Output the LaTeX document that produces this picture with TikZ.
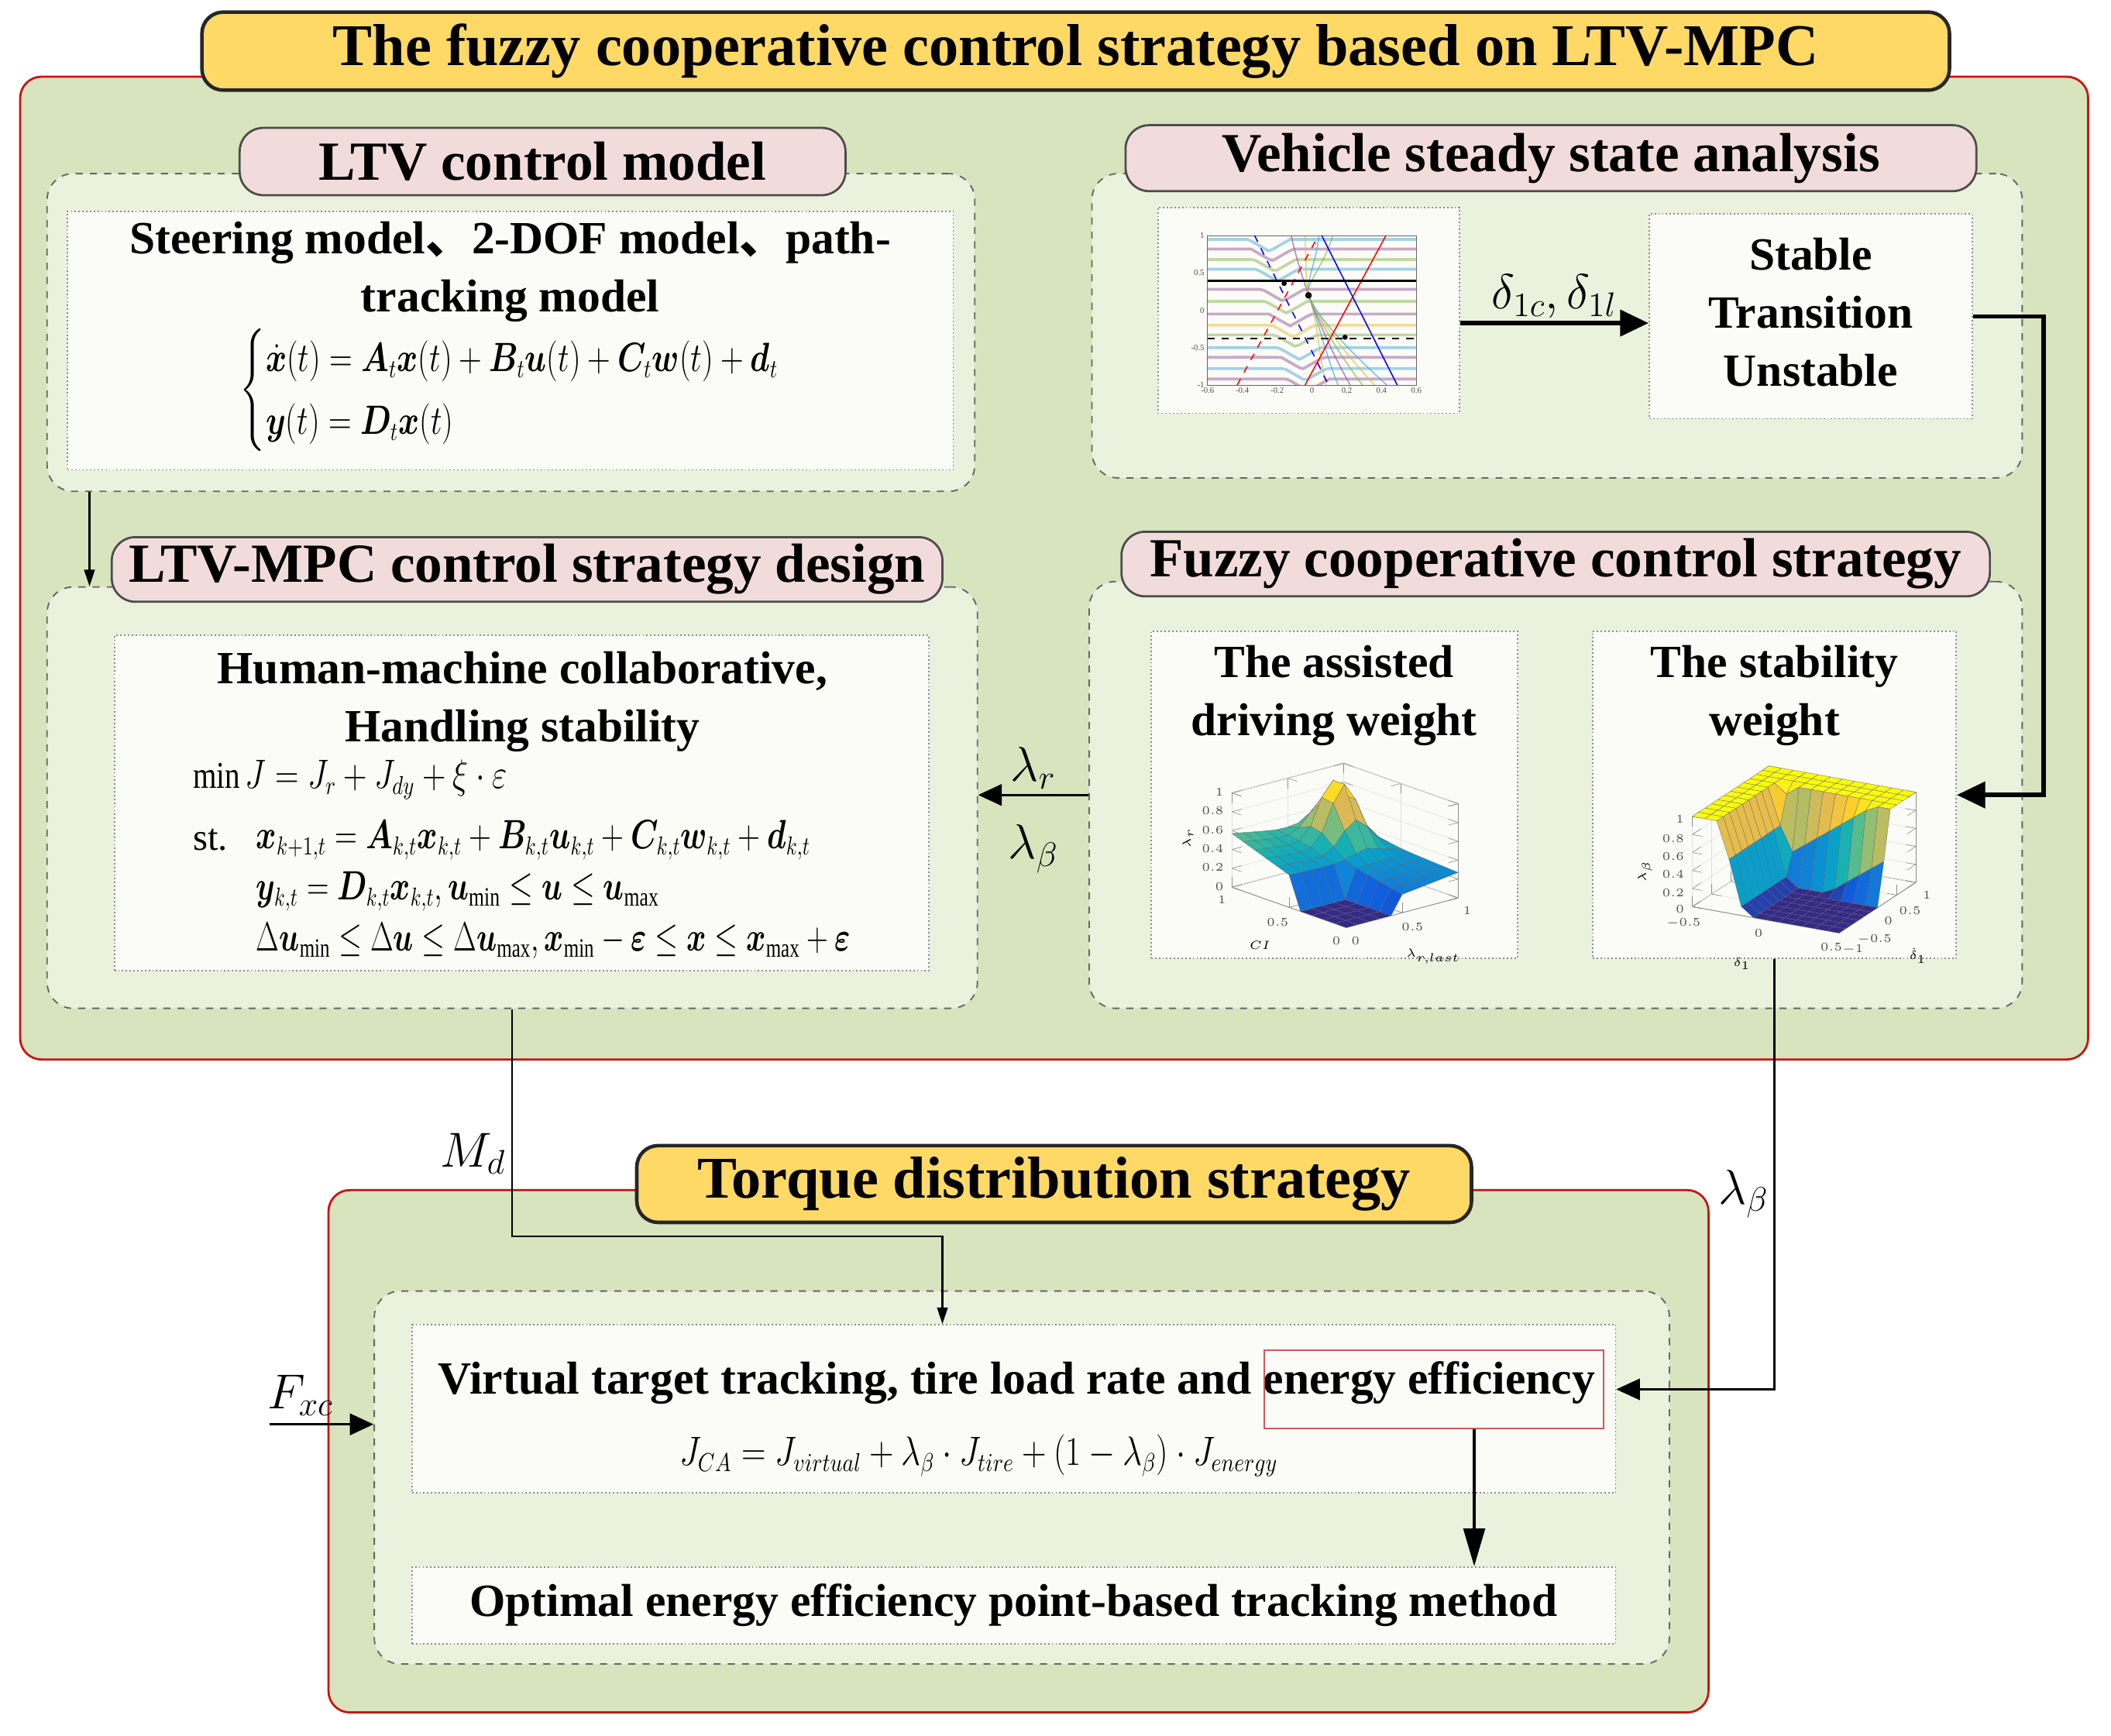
\documentclass[tikz,border=0pt]{standalone}
\usepackage{amsmath}
\usepackage{bm}
\usepackage{graphicx}
\usepackage{fontspec}
\setmainfont{Liberation Serif}
\newfontfamily\cjk{Noto Sans CJK SC}
\usepackage{tikz}
\usepackage{pgfplots}
\pgfplotsset{compat=1.18}
\usetikzlibrary{arrows.meta,positioning,calc}

\definecolor{panelgreen}{RGB}{215,228,189}
\definecolor{grpgreen}{RGB}{234,241,221}
\definecolor{bannergold}{RGB}{255,217,102}
\definecolor{headpink}{RGB}{242,220,219}
\definecolor{panelred}{RGB}{200,20,20}
\definecolor{cardwhite}{RGB}{251,252,248}
\definecolor{framered}{RGB}{205,90,90}
\definecolor{c1}{RGB}{77,170,210}
\definecolor{c2}{RGB}{150,90,150}
\definecolor{c3}{RGB}{140,180,80}
\definecolor{c4}{RGB}{230,190,60}

% surfaces of the fuzzy weights
\pgfplotsset{
  surfplot/.style={grid=major,
    grid style={black!12, line width=0.2pt},
    axis line style={black!45, line width=0.3pt},
    tick style={black!45, line width=0.2pt},
    tick label style={font=\fontsize{4}{4}\selectfont\mdseries, text=black!70},
    label style={font=\fontsize{5}{5}\selectfont\mdseries, inner sep=0pt},
    colormap={parula}{rgb255=(53,42,135) rgb255=(15,92,221) rgb255=(18,125,216)
      rgb255=(7,156,207) rgb255=(21,177,180) rgb255=(89,189,140)
      rgb255=(165,190,107) rgb255=(225,185,82) rgb255=(252,206,46) rgb255=(249,251,14)},
    faceted color=black!60, z buffer=sort, zmin=0, zmax=1}
}

\begin{document}
\begin{tikzpicture}
[x=0.2mm, y=0.2mm,
% STYLES
% The panel style is used for the two large green panels
panel/.style={draw=panelred, line width=0.9pt, fill=panelgreen, rounded corners=9pt},
% The banner style is used for the yellow titles
banner/.style={draw=black!85, line width=1.5pt, fill=bannergold, rounded corners=9pt, font=\fontsize{25}{30}\selectfont\bfseries},
% The grp style is used for the dashed groups
grp/.style={draw=black!60, dashed, line width=0.6pt, fill=grpgreen, rounded corners=11pt},
% The header style is used for the pink names of the groups
header/.style={draw=black!70, line width=0.9pt, fill=headpink, rounded corners=10pt, font=\fontsize{23.3}{28}\selectfont\bfseries},
card/.style={draw=black!45, densely dotted, line width=0.6pt, fill=cardwhite},
txt/.style={font=\fontsize{19.5}{24.5}\selectfont\bfseries, align=center, inner sep=0pt},
eq/.style={font=\fontsize{16}{22}\selectfont, inner sep=0pt, anchor=west},
sig/.style={font=\fontsize{20}{24}\selectfont, inner sep=0pt},
boxsize/.style 2 args={minimum width=#1*0.2mm, minimum height=#2*0.2mm, inner sep=0pt},
thin arrow/.style={-{Triangle[length=7pt,width=4.5pt]}, line width=0.7pt},
mid arrow/.style={-{Triangle[length=10pt,width=9pt]}, line width=1.1pt},
bold arrow/.style={-{Triangle[length=12pt,width=11pt]}, line width=1.8pt},
long arrow/.style={-{Triangle[length=16pt,width=9pt]}, line width=1.4pt}]

\useasboundingbox (0,0) rectangle (1568,1289);

% Draw panels
\node [panel, boxsize={1536}{730}] (top) at (783,867) {};
\node [banner, boxsize={1298}{58}] (title) at (799,1251) {The fuzzy cooperative control strategy based on LTV-MPC};

%%%%%%%%%%%%%%%
% LTV control model
\node [grp, boxsize={689}{236}] (ltv) at (379.5,1042) {};
\node [header, boxsize={450}{50}] (ltv-head) at (403,1169) {LTV control model};
\node [card, boxsize={658}{192}] (ltv-card) at (379,1036) {};
\node [txt] (ltv-text) at (379,1087) {Steering model{\cjk 、}2-DOF model{\cjk 、}path-\\tracking model};
\node [eq] (ltv-eq) at (178,999) {\scalebox{0.78}[1]{$\begin{cases}\dot{\bm x}(t)=\bm A_t\bm x(t)+\bm B_t\bm u(t)+\bm C_t\bm w(t)+\bm d_t\\ \bm y(t)=\bm D_t\bm x(t)\end{cases}$}};

% Vehicle steady state analysis
\node [grp, boxsize={691}{226}] (vsa) at (1156.5,1047) {};
\node [header, boxsize={632}{49}] (vsa-head) at (1152,1171.5) {Vehicle steady state analysis};
\node [card, boxsize={224}{153}] (phase) at (972,1058.5) {};
\node [card, boxsize={240}{152}] (state) at (1345,1054) {};
\node [txt] (state-text) at (1345,1057) {Stable\\Transition\\Unstable};

% phase plane in the card
\begin{scope}[shift={(974.5,1058.5)}, x=25.84mm, y=11.1mm]
  \begin{scope}
    \clip (-0.6,-1) rectangle (0.6,1);
    \foreach \c/\col in {0.95/c1, 0.82/c2, 0.68/c3, 0.55/c1, 0.28/c2, 0.12/c3, -0.05/c2, -0.2/c4, -0.33/c3, -0.5/c1, -0.63/c2, -0.78/c1, -0.92/c2}
      \draw [\col, opacity=0.5, line width=1.2pt] plot[domain=-0.6:0.6, samples=49] (\x, {\c-0.16*max(0,1-abs(\x+0.24-0.12*(0.9-(\c)))/0.12)});
    \foreach \k/\col in {0/c4, 1/c1, 2/c2, 3/c3, 4/c4, 5/c1}
      \draw [\col, opacity=0.7, line width=0.5pt] (-0.02,0.2) .. controls (0.03,-0.1) and ({0.04+0.04*\k},-0.6) .. ({0.08+0.07*\k},-1);
    \foreach \k/\col in {0/c2, 1/c4, 2/c1, 3/c3}
      \draw [\col, opacity=0.7, line width=0.5pt] ({-0.12+0.08*\k},1) .. controls ({-0.08+0.05*\k},0.6) and (-0.04,0.35) .. (-0.02,0.2);
  \end{scope}
  \draw [black!60, line width=0.3pt] (-0.6,-1) rectangle (0.6,1);
  \draw [red, line width=0.5pt] (-0.04,-1) -- (0.425,1);
  \draw [blue, line width=0.5pt] (0.056,1) -- (0.49,-1);
  \draw [red, dashed, line width=0.5pt] (-0.43,-1) -- (0.037,1);
  \draw [blue, dashed, line width=0.5pt] (-0.33,1) -- (0.095,-1);
  \draw [black, line width=0.8pt] (-0.6,0.395) -- (0.6,0.395);
  \draw [black, dashed, line width=0.6pt] (-0.6,-0.38) -- (0.6,-0.38);
  \fill (-0.16,0.36) circle[radius=1.1pt] (-0.02,0.2) circle[radius=1.4pt] (0.19,-0.36) circle[radius=1.1pt];
  \foreach \t in {-0.6,-0.4,-0.2,0,0.2,0.4,0.6}
    \node [font=\fontsize{3.5}{4}\selectfont, text=black!70, below=0.8pt, inner sep=0pt] at (\t,-1) {\t};
  \foreach \t in {-1,-0.5,0,0.5,1}
    \node [font=\fontsize{3.5}{4}\selectfont, text=black!70, left=1.2pt, inner sep=0pt] at (-0.6,\t) {\t};
\end{scope}

% LTV-MPC control strategy design
\node [grp, boxsize={691}{313}] (mpc) at (380.5,696.5) {};
\node [header, boxsize={617}{48}] (mpc-head) at (391.5,866) {LTV-MPC control strategy design};
\node [card, boxsize={605}{249}] (mpc-card) at (387.5,692.5) {};
\node [txt] (mpc-text) at (388,767.5) {Human-machine collaborative,\\Handling stability};
\node [eq] (mpc-cost) at (143,710) {\scalebox{0.8}[1]{$\min J=J_r+J_{dy}+\xi\cdot\varepsilon$}};
\node [eq] (mpc-st) at (143,665) {st.};
\node [eq] (mpc-state) at (190,665) {\scalebox{0.76}[1]{$\bm x_{k+1,t}=\bm A_{k,t}\bm x_{k,t}+\bm B_{k,t}\bm u_{k,t}+\bm C_{k,t}\bm w_{k,t}+\bm d_{k,t}$}};
\node [eq] (mpc-out) at (190,627) {\scalebox{0.75}[1]{$\bm y_{k,t}=\bm D_{k,t}\bm x_{k,t},\bm u_{\min}\le\bm u\le\bm u_{\max}$}};
\node [eq] (mpc-lim) at (190,590) {\scalebox{0.73}[1]{$\Delta\bm u_{\min}\le\Delta\bm u\le\Delta\bm u_{\max},\bm x_{\min}-\bm\varepsilon\le\bm x\le\bm x_{\max}+\bm\varepsilon$}};

% Fuzzy cooperative control strategy
\node [grp, boxsize={693}{317}] (fuz) at (1155.5,698.5) {};
\node [header, boxsize={645}{48}] (fuz-head) at (1155.5,870) {Fuzzy cooperative control strategy};
\node [card, boxsize={272}{243}] (assist) at (991,698.5) {};
\node [card, boxsize={270}{243}] (stab) at (1318,698.5) {};
\node [txt] (assist-text) at (991,772.5) {The assisted\\driving weight};
\node [txt] (stab-text) at (1318,772.5) {The stability\\weight};

\coordinate (assist-plot) at (999,661);
\coordinate (stab-plot) at (1340,658);
\begin{axis}[surfplot, at={(assist-plot)}, anchor=center,
  x={(16.6mm,4.4mm)}, y={(-17mm,6mm)}, z={(0mm,14mm)},
  xmin=0, xmax=1, ymin=0, ymax=1, xtick={0,0.5,1}, ytick={0,0.5,1}, ztick={0,0.2,...,1},
  ylabel={$CI$}, xlabel={$\lambda_{r,last}$}, zlabel={$\lambda_r$}]
  \addplot3 [surf, shader=faceted, line width=0.1pt, samples=11, domain=0:1, y domain=0:1]
    {(1-and(y<0.42,x<0.5))*min(1,0.12+0.45*y*(1-0.5*x)+0.15*x*(1-y)+0.7*exp(-((y-0.75)*(y-0.75)+(x-0.7)*(x-0.7))/0.03))};
\end{axis}
\begin{axis}[surfplot, at={(stab-plot)}, anchor=center,
  x={(5.7mm,3.75mm)}, y={(-21.8mm,3.9mm)}, z={(0mm,13.4mm)}, y dir=reverse,
  ymin=-0.5, ymax=0.5, xmin=-1, xmax=1, ytick={-0.5,0,0.5}, xtick={-1,-0.5,0,0.5,1}, ztick={0,0.2,...,1},
  ylabel={$\delta_1$}, xlabel={$\dot\delta_1$}, zlabel={$\lambda_\beta$}]
  \addplot3 [surf, shader=faceted, line width=0.1pt, samples=13, domain=-1:1, y domain=-0.5:0.5]
    {max(min(1,max(0,6*(-y-0.15))),min(1,max(0,4*(x-0.2+0.3*y))))};
\end{axis}

% Torque distribution strategy
\node [panel, boxsize={1025}{388}] (tds) at (756.5,211) {};
\node [banner, boxsize={620}{57}] (tds-title) at (783,409.5) {Torque distribution strategy};
\node [grp, boxsize={962}{277}] (alloc) at (759,191.5) {};
\node [card, boxsize={894}{125}] (virtual) at (753,242.5) {};
\node [txt] (virtual-text) at (755,262) {Virtual target tracking, tire load rate and energy efficiency};
\node [eq, anchor=center] (virtual-eq) at (727,208) {\scalebox{0.83}[1]{$J_{CA}=J_{virtual}+\lambda_\beta\cdot J_{tire}+\left(1-\lambda_\beta\right)\cdot J_{energy}$}};
\node [draw=framered, line width=0.8pt, boxsize={252}{58}] (energy) at (1065,257) {};
\node [card, boxsize={894}{57}, txt] (optimal) at (753,96.5) {Optimal energy efficiency point-based tracking method};
%%%%%%%%%%%%%%%%

% Draw the links
\coordinate (d-out) at ([yshift=-1.9mm]phase.east);
\coordinate (loop) at (1518,0);
\coordinate (md-in) at ([xshift=-10.6mm]virtual.north);
\coordinate (lb-in) at ([yshift=2.9mm]virtual.east);
\coordinate (fxc) at (200,231);
\coordinate (en-out) at ([xshift=6mm]energy.south);

\draw [thin arrow] ([xshift=6.4mm]ltv.south west) -- ([xshift=6.4mm]mpc.north west);
\draw [bold arrow] (d-out) -- (d-out -| state.west) node [sig, midway, above=1pt] {$\delta_{1c},\delta_{1l}$};
\draw [bold arrow] (state.east) -- (state.east -| loop) |- (stab.east);
\draw [mid arrow] (fuz.west) -- (fuz.west -| mpc.east)
  node [sig, midway, above=2pt] {$\lambda_r$}
  node [sig, midway, below=12pt] {$\lambda_\beta$};
\draw [thin arrow] (mpc.south) -- ++(0,-169) -| (md-in);
\node [sig, anchor=east] (md) at (376,432) {$M_d$};
\draw [mid arrow, line width=0.8pt] (stab.south) |- (lb-in);
\node [sig, anchor=east] (lb) at (1314,402) {$\lambda_\beta$};
\draw [mid arrow] (fxc) -- (fxc -| alloc.west) node [sig, pos=0.3, above=3pt] {$F_{xc}$};
\draw [long arrow] (en-out) -- (en-out |- optimal.north);

\end{tikzpicture}
\end{document}
